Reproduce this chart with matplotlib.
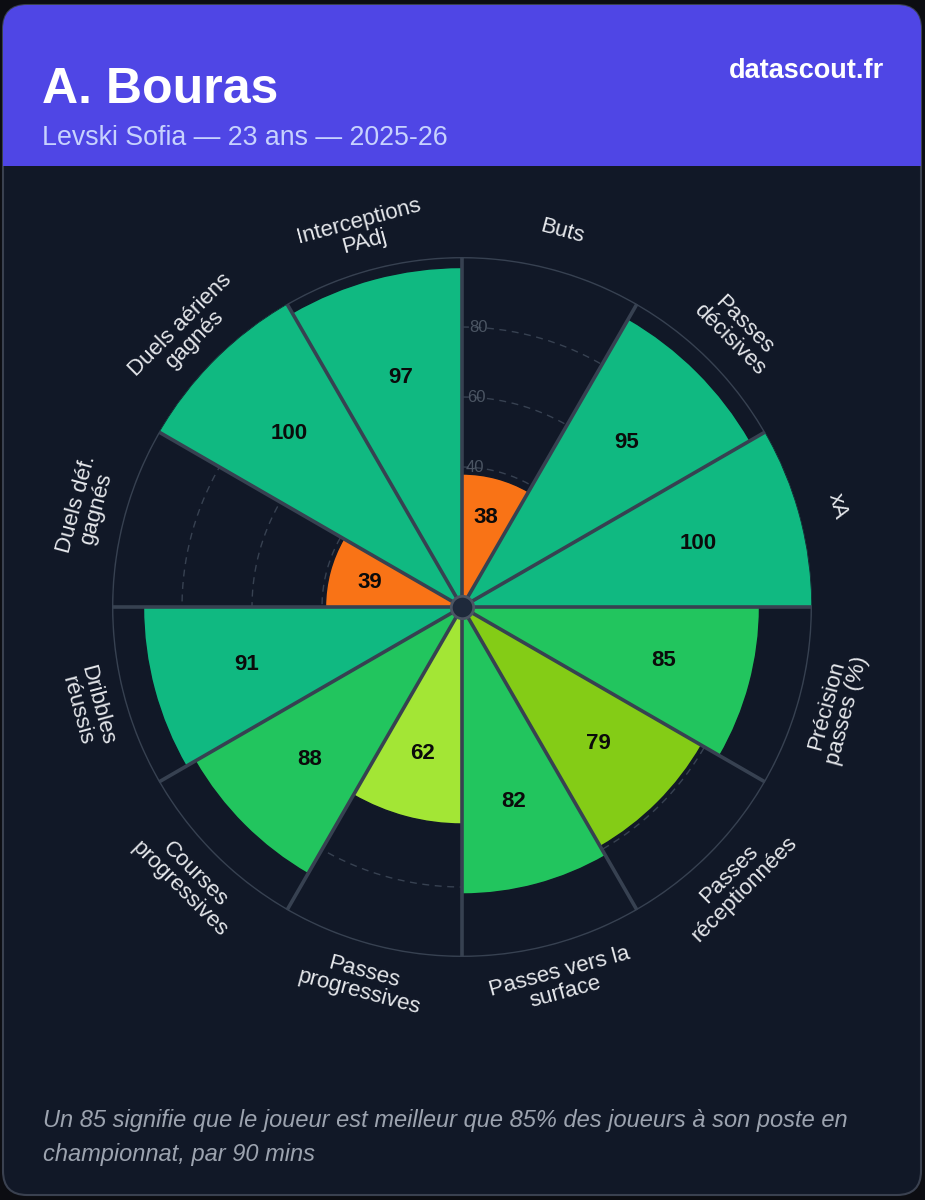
import matplotlib.pyplot as plt
import numpy as np
from matplotlib.patches import FancyBboxPatch, Rectangle

plt.rcParams['font.family'] = ['Liberation Sans', 'DejaVu Sans']

# data
categories = ['Buts', 'Passes\ndécisives', 'xA', 'Précision\npasses (%)',
              'Passes\nréceptionnées', 'Passes vers la\nsurface', 'Passes\nprogressives',
              'Courses\nprogressives', 'Dribbles\nréussis', 'Duels déf.\ngagnés',
              'Duels aériens\ngagnés', 'Interceptions\nPAdj']
percentiles = [38, 95, 100, 85, 79, 82, 62, 88, 91, 39, 100, 97]
grid_levels = [20, 40, 60, 80]
grid_labels = ['40', '60', '80']

player = 'A. Bouras'
subtitle = 'Levski Sofia — 23 ans — 2025-26'
site = 'datascout.fr'
note_lines = ['Un 85 signifie que le joueur est meilleur que 85% des joueurs à son poste en',
              'championnat, par 90 mins']

def colour(v):
    if v >= 90: return '#10b981'
    if v >= 80: return '#22c55e'
    if v >= 70: return '#84cc16'
    if v >= 60: return '#a3e635'
    if v >= 40: return '#facc15'
    return '#f97316'

W, H = 925, 1200
fig = plt.figure(figsize=(W/100, H/100), dpi=100)
fig.patch.set_facecolor('#0c0d12')

# background card in pixel coords
bg = fig.add_axes([0, 0, 1, 1])
bg.set_xlim(0, W); bg.set_ylim(H, 0); bg.axis('off')
card = FancyBboxPatch((3, 5), 918, 1190, boxstyle='round,pad=0,rounding_size=24',
                      fc='#111827', ec='#3a4150', lw=1.5)
bg.add_patch(card)
head = FancyBboxPatch((3, 5), 918, 1190, boxstyle='round,pad=0,rounding_size=24',
                      fc='#4f46e5', ec='none')
bg.add_patch(head)
head.set_clip_path(Rectangle((0, 0), W, 166, transform=bg.transData))

bg.text(42, 103, player, color='white', fontsize=36, fontweight='bold', va='baseline')
bg.text(42, 145, subtitle, color='#c7d2fe', fontsize=19.3, va='baseline')
bg.text(884, 78, site, color='white', fontsize=19.5, fontweight='bold', va='baseline', ha='right')
for k, line in enumerate(note_lines):
    bg.text(43, 1127 + 34*k, line, color='#9ca3af', fontsize=17, style='italic',
            va='baseline')

# pizza
cx, cy, R = 462, 607, 350
ax = fig.add_axes([(cx - R)/W, (H - cy - R)/H, 2*R/W, 2*R/H], projection='polar')
ax.set_theta_offset(np.pi/2)
ax.set_theta_direction(-1)
ax.set_ylim(0, 100)
ax.axis('off')

n = len(categories)
step = 2*np.pi/n
centers = np.arange(n)*step + step/2
full = np.linspace(0, 2*np.pi, 400)

for g in grid_levels:
    ax.plot(full, [g]*len(full), color='#374151', lw=1, ls=(0, (5, 4)), zorder=1)
ax.plot(full, [100]*len(full), color='#374151', lw=2, zorder=1)
for lab in grid_labels:
    ax.text(np.deg2rad(1.5), float(lab), lab, color='#4b5563', fontsize=12,
            ha='left', va='center', zorder=1)

ax.bar(centers, percentiles, width=step, color=[colour(v) for v in percentiles],
       edgecolor='#111827', lw=1, zorder=3)

for i in range(n):
    ax.plot([i*step, i*step], [0, 100], color='#374151', lw=2.6, zorder=4,
            solid_capstyle='butt')

for a, v, lab in zip(centers, percentiles, categories):
    ax.text(a, v*0.7, str(v), color='#0b0b0b', fontsize=16, fontweight='bold',
            ha='center', va='center', zorder=5)
    deg = 90 - np.degrees(a)
    deg = (deg + 180) % 360 - 180
    rot = deg - 90 if 0 < deg < 180 else deg + 90
    ax.text(a, 111, lab, color='#e5e7eb', fontsize=16, rotation=rot,
            rotation_mode='anchor', ha='center', va='center', linespacing=1.0)

ax.scatter([0], [0], s=260, c='#1e293b', edgecolors='#4b5563', linewidths=2, zorder=6)

fig.savefig('out.png', dpi=100, facecolor=fig.get_facecolor())
